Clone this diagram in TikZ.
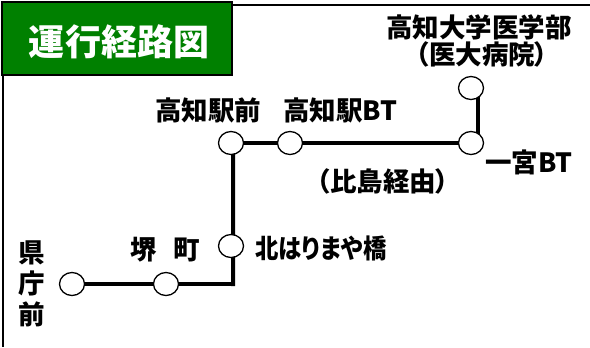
\documentclass[tikz,border=0pt]{standalone}
\usepackage{fontspec}
\newfontfamily\jp[RawFeature=+palt]{Noto Sans CJK JP}
\usetikzlibrary{shapes.geometric,backgrounds}
\definecolor{titlegreen}{RGB}{0,128,0}
\begin{document}
\begin{tikzpicture}[x=1bp,y=-1bp,
  stn/.style={ellipse,draw=black,line width=1.3bp,fill=white,minimum width=25bp,minimum height=23bp,inner sep=0pt},
  lbl/.style={font={\jp\bfseries\fontsize{26.5bp}{31bp}\selectfont},inner sep=0pt,text=black},
  route/.style={line width=4bp,line cap=rect},
  frame/.style={line width=1.5bp}]
\useasboundingbox (0,0) rectangle (590,347);
% frame
\draw[frame] (590,5) -- (3,5) -- (3,347);
% title
\draw[fill=titlegreen,draw=black,line width=2bp] (2,2) rectangle (232,75);
\node[font={\jp\bfseries\fontsize{36bp}{36bp}\selectfont},text=white,inner sep=0pt] (title) at (119,42) {運行経路図};
% stations
\node[stn] (kencho) at (72,284) {};
\node[stn] (sakai) at (166,284) {};
\node[stn] (kita) at (231,246) {};
\node[stn] (ekimae) at (231,143) {};
\node[stn] (ekibt) at (290,143) {};
\node[stn] (ichi) at (471,143) {};
\node[stn] (idai) at (471,88) {};
\coordinate (corner) at (233,284);
% route
\begin{pgfonlayer}{background}
\draw[route] (kencho.center) -- (sakai.center) -- (corner);
\draw[route] ([xshift=2bp]ekimae.center) -- (corner);
\draw[route] (ekimae.center) -- (ekibt.center) -- (ichi.center);
\draw[route] ([xshift=7bp]ichi.center) -- ([xshift=7bp]idai.center);
\end{pgfonlayer}
% labels
\node[lbl,align=center] (kencholbl) at (32,284) {県\\庁\\前};
\node[lbl] (sakailbl) at (165,250) {堺\hspace{17bp}町};
\node[lbl] (kitalbl) at (321,248) {\scalebox{0.88}[1]{北はりまや橋}};
\node[lbl] (ekimaelbl) at (208,110) {高知駅前};
\node[lbl] (ekibtlbl) at (340,110) {高知駅BT};
\node[lbl] (hijima) at (383,181) {（比島経由）};
\node[lbl] (ichilbl) at (529,162) {一宮BT};
\node[lbl] (idailbl) at (479,27) {高知大学医学部};
\node[lbl] (idai2lbl) at (482,54) {（医大病院）};
\end{tikzpicture}
\end{document}
